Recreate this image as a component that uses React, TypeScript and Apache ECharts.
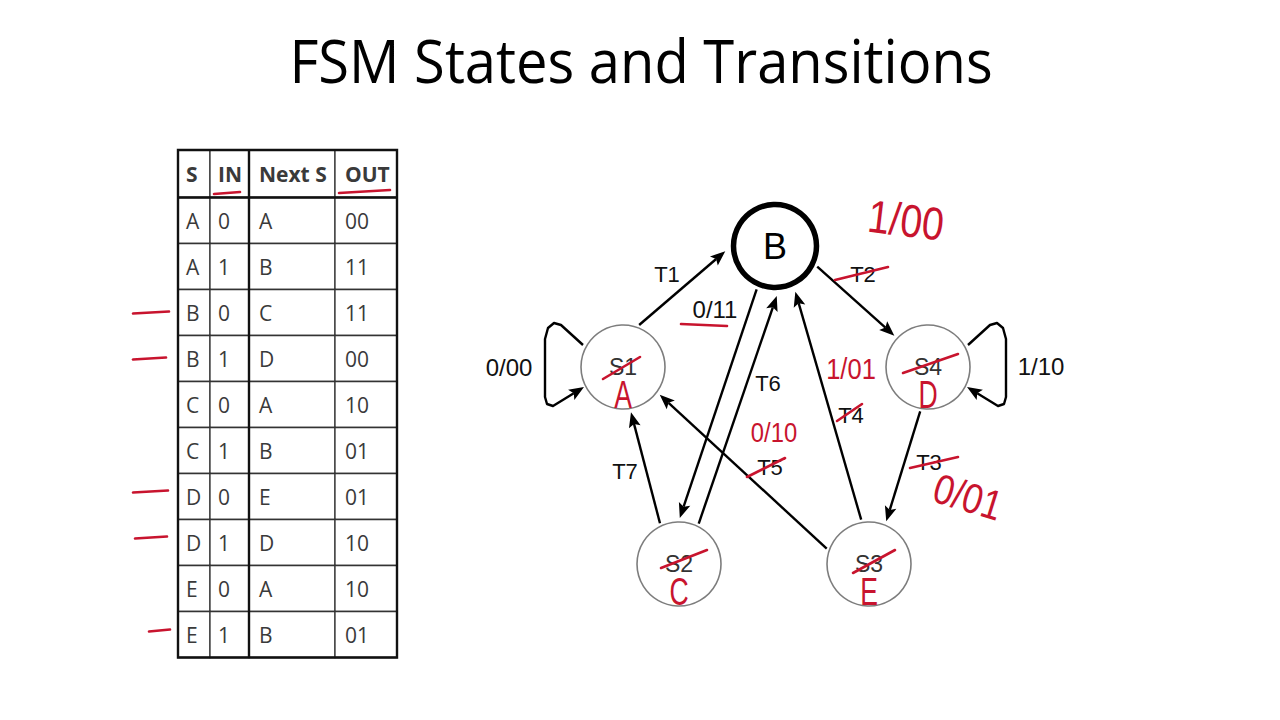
import { useEffect, useRef } from "react"
import * as echarts from "echarts"

const FONT = "'Liberation Sans', Arial, sans-serif"
const TABLE_FONT = "'Open Sans', sans-serif"
const RED = "#c8142e"

// ---- state table ----
const tableHeader = ["S", "IN", "Next S", "OUT"]
const curState = ["A", "A", "B", "B", "C", "C", "D", "D", "E", "E"]
const inputBit = ["0", "1", "0", "1", "0", "1", "0", "1", "0", "1"]
const nextState = ["A", "B", "C", "D", "A", "B", "E", "D", "A", "B"]
const outBits = ["00", "11", "11", "00", "10", "01", "01", "10", "10", "01"]
const markedRows = [2, 3, 6, 7, 9]

// ---- diagram ----
const stateNames = ["A", "B", "C", "D", "E"]
const oldNames: Record<string, string> = { A: "S1", B: "", C: "S2", D: "S4", E: "S3" }
const transFrom = ["A", "B", "D", "E", "E", "C", "B", "C"]
const transTo = ["B", "D", "E", "B", "A", "B", "C", "A"]
const transTag = ["T1", "T2", "T3", "T4", "T5", "T6", "", "T7"]
const tagStruck = [false, true, true, true, true, false, false, false]
const loopState = ["A", "D"]
const loopIO = ["0/00", "1/10"]
const edgeIO = ["0/11"]
const noteText = ["1/00", "1/01", "0/10", "0/01"]

// ---- layout (pixels) ----
const colEdges = [178, 210, 249, 335, 397]
const colPad = [8, 8, 10, 10]
const tableTop = 150
const headerH = 47.5
const rowH = 46
const tickX = [[133, 169], [133, 166], [133, 168], [135, 167], [149, 170]]
const tickDy = [0, 0, -5, -5, -4]

const statePos: Record<string, number[]> = {
  A: [623, 367], B: [775, 246], C: [679, 564], D: [928, 367], E: [869, 564],
}
const edgeAngles = [[-69, 174], [26, 223], [100, -68], [-100, 66], [200, 37], [-64, 88], [113, -89], [-115, 80]]
const tagPos = [[667, 274], [863, 274], [929, 462], [851, 415], [770, 467], [768, 383], [0, 0], [625, 471]]
const tagStrike: Record<number, number[]> = {
  1: [-28, 6, 25, -7], 2: [-19, 6, 29, -5], 3: [-14, 6, 11, -11], 4: [-23, 10, 15, -9],
}
const loopShape = [[40, -22], [62, -42], [69, -44], [75, -39], [78, -28], [78, 30], [76, 37], [70, 39], [39, 20]]
const loopSide = [-1, 1]
const loopLabelPos = [[509, 367], [1041, 366]]
const nameStrike: Record<string, number[]> = {
  A: [-20, 12, 17, -10], D: [-25, 6, 30, -13], C: [-18, 4, 28, -14], E: [-16, 9, 26, -14],
}
const notePos = [[906, 220], [851, 369], [774, 432], [968, 497]]
const noteSize = [46, 30, 28, 42]
const noteRot = [-0.12, 0, 0, -0.3]

function rad(d: number) {
  return (d * Math.PI) / 180
}

function arrowHead(tip: number[], from: number[]) {
  const dx = tip[0] - from[0]
  const dy = tip[1] - from[1]
  const l = Math.hypot(dx, dy)
  const ux = dx / l, uy = dy / l
  const nx = -uy, ny = ux
  const len = 15, hw = 6, notch = 3
  const bx = tip[0] - ux * len, by = tip[1] - uy * len
  return {
    base: [tip[0] - ux * (len - notch), tip[1] - uy * (len - notch)],
    points: [tip, [bx + nx * hw, by + ny * hw], [tip[0] - ux * (len - notch), tip[1] - uy * (len - notch)], [bx - nx * hw, by - ny * hw]],
  }
}

export default function App() {
  const chartRef = useRef<HTMLDivElement>(null)

  useEffect(() => {
    if (!chartRef.current) return
    const chart = echarts.init(chartRef.current, null, { renderer: "svg" })

    // table cells: [col, row] with row -1 = header
    const cells: number[][] = []
    for (let c = 0; c < 4; c++) cells.push([c, -1])
    for (let r = 0; r < curState.length; r++) for (let c = 0; c < 4; c++) cells.push([c, r])
    const columns = [curState, inputBit, nextState, outBits]

    const tableSeries = {
      type: "custom",
      silent: true,
      data: cells,
      renderItem: (_p: any, api: any) => {
        const c = api.value(0)
        const r = api.value(1)
        const y0 = r < 0 ? tableTop : tableTop + headerH + r * rowH
        const y1 = r < 0 ? tableTop + headerH : y0 + rowH
        const p0 = api.coord([colEdges[c], y0])
        const p1 = api.coord([colEdges[c + 1], y1])
        const text = r < 0 ? tableHeader[c] : columns[c][r]
        return {
          type: "group",
          children: [
            {
              type: "rect",
              shape: { x: p0[0], y: p0[1], width: p1[0] - p0[0], height: p1[1] - p0[1] },
              style: { fill: "#fff", stroke: "#333", lineWidth: 1.3 },
            },
            {
              type: "text",
              style: {
                text,
                x: p0[0] + colPad[c],
                y: (p0[1] + p1[1]) / 2,
                fill: "#3a3a3a",
                font: `${r < 0 ? "bold " : ""}21px ${TABLE_FONT}`,
                align: "left",
                verticalAlign: "middle",
              },
            },
          ],
        }
      },
    }

    const edgeSeries = {
      type: "custom",
      silent: true,
      z: 3,
      data: transFrom.map((_, i) => [i, 0]),
      renderItem: (params: any, api: any) => {
        const i = params.dataIndex
        const a = statePos[transFrom[i]]
        const b = statePos[transTo[i]]
        const r0 = transFrom[i] === "B" ? 47 : 45
        const r1 = transTo[i] === "B" ? 50 : 46
        const s = api.coord([a[0] + r0 * Math.cos(rad(edgeAngles[i][0])), a[1] + r0 * Math.sin(rad(edgeAngles[i][0]))])
        const t = api.coord([b[0] + r1 * Math.cos(rad(edgeAngles[i][1])), b[1] + r1 * Math.sin(rad(edgeAngles[i][1]))])
        const head = arrowHead(t, s)
        const children: any[] = [
          { type: "line", shape: { x1: s[0], y1: s[1], x2: head.base[0], y2: head.base[1] }, style: { stroke: "#000", lineWidth: 2.4 } },
          { type: "polygon", shape: { points: head.points }, style: { fill: "#000" } },
        ]
        if (transTag[i]) {
          const lp = api.coord(tagPos[i])
          children.push({
            type: "text",
            style: { text: transTag[i], x: lp[0], y: lp[1], fill: "#111", font: `22px ${FONT}`, align: "center", verticalAlign: "middle" },
          })
        }
        return { type: "group", children }
      },
    }

    const loopSeries = {
      type: "custom",
      silent: true,
      z: 3,
      data: loopState.map((_, i) => [i, 0]),
      renderItem: (params: any, api: any) => {
        const i = params.dataIndex
        const c = statePos[loopState[i]]
        const pts = loopShape.map((o) => api.coord([c[0] + o[0] * loopSide[i], c[1] + o[1]]))
        const tip = pts[pts.length - 1]
        const head = arrowHead(tip, pts[pts.length - 2])
        const lp = api.coord(loopLabelPos[i])
        return {
          type: "group",
          children: [
            {
              type: "polyline",
              shape: { points: [...pts.slice(0, -1), head.base] },
              style: { stroke: "#000", lineWidth: 2.4, fill: "none", lineJoin: "round" },
            },
            { type: "polygon", shape: { points: head.points }, style: { fill: "#000" } },
            {
              type: "text",
              style: { text: loopIO[i], x: lp[0], y: lp[1], fill: "#111", font: `24px ${FONT}`, align: "center", verticalAlign: "middle" },
            },
          ],
        }
      },
    }

    const nodeSeries = {
      type: "scatter",
      silent: true,
      z: 5,
      symbol: "circle",
      label: {
        show: true,
        position: "inside",
        formatter: (p: any) => (p.name === "B" ? "{b|B}" : `{s|${oldNames[p.name]}}`),
        rich: {
          b: { fontFamily: FONT, fontSize: 36, color: "#000", lineHeight: 38 },
          s: { fontFamily: FONT, fontSize: 23, color: "#333", lineHeight: 24 },
        },
      },
      data: stateNames.map((s) => ({
        name: s,
        value: statePos[s],
        symbolSize: s === "B" ? 83 : 84,
        itemStyle: s === "B"
          ? { color: "#fff", borderColor: "#000", borderWidth: 5.5, opacity: 1 }
          : { color: "#fff", borderColor: "#7d7d7d", borderWidth: 1.6, opacity: 1 },
      })),
    }

    const redLine = (x1: number, y1: number, x2: number, y2: number, w = 2.6) => ({
      type: "line",
      z: 100,
      shape: { x1, y1, x2, y2 },
      style: { stroke: RED, lineWidth: w, lineCap: "round" },
    })
    const redText = (text: string, x: number, y: number, size: number, rotation = 0, scaleX = 1) => ({
      type: "text",
      z: 100,
      x,
      y,
      rotation,
      scaleX,
      style: { text, fill: RED, font: `${size}px ${FONT}`, align: "center", verticalAlign: "middle" },
    })

    const graphic: any[] = [
      {
        type: "text",
        z: 100,
        x: 641,
        y: 60,
        scaleX: 0.935,
        style: { text: "FSM States and Transitions", fill: "#000", font: `60px 'Open Sans', sans-serif`, align: "center", verticalAlign: "middle" },
      },
      // thick table rules
      { type: "rect", z: 50, shape: { x: colEdges[0], y: tableTop, width: colEdges[4] - colEdges[0], height: headerH + rowH * curState.length }, style: { fill: "none", stroke: "#111", lineWidth: 2.4 } },
      { type: "line", z: 50, shape: { x1: colEdges[0], y1: tableTop + headerH, x2: colEdges[4], y2: tableTop + headerH }, style: { stroke: "#111", lineWidth: 2.6 } },
      { type: "line", z: 50, shape: { x1: colEdges[2], y1: tableTop, x2: colEdges[2], y2: tableTop + headerH + rowH * curState.length }, style: { stroke: "#111", lineWidth: 2.4 } },
      // red underlines in header
      redLine(214, 194, 240, 192),
      redLine(339, 193, 390, 190),
      // 0/11 label with underline
      {
        type: "text",
        z: 100,
        x: 715,
        y: 309,
        style: { text: edgeIO[0], fill: "#111", font: `24px ${FONT}`, align: "center", verticalAlign: "middle" },
      },
      redLine(681, 324, 727, 326),
    ]

    markedRows.forEach((r, k) => {
      const y = tableTop + headerH + rowH * (r + 0.5) + tickDy[k]
      graphic.push(redLine(tickX[k][0], y + 1, tickX[k][1], y - 1))
    })

    transTag.forEach((_, i) => {
      const st = tagStrike[i]
      if (!tagStruck[i] || !st) return
      const p = tagPos[i]
      graphic.push(redLine(p[0] + st[0], p[1] + st[1], p[0] + st[2], p[1] + st[3]))
    })

    stateNames.forEach((s) => {
      const st = nameStrike[s]
      if (!st) return
      const c = statePos[s]
      graphic.push(redLine(c[0] + st[0], c[1] + st[1], c[0] + st[2], c[1] + st[3]))
      graphic.push(redText(s, c[0], c[1] + 28, 38, 0, 0.7))
    })

    noteText.forEach((t, i) => {
      graphic.push(redText(t, notePos[i][0], notePos[i][1], noteSize[i], noteRot[i], 0.85))
    })

    const option = {
      animation: false,
      backgroundColor: "#fff",
      grid: { left: 0, right: 0, top: 0, bottom: 0 },
      xAxis: { type: "value", min: 0, max: 1280, show: false },
      yAxis: { type: "value", min: 0, max: 720, inverse: true, show: false },
      series: [tableSeries, edgeSeries, loopSeries, nodeSeries],
      graphic,
    }

    chart.setOption(option as any)

    return () => {
      chart.dispose()
    }
  }, [])

  return (
    <div
      ref={chartRef}
      style={{ position: "absolute", left: 0, top: 0, width: 1280, height: 720, background: "#fff" }}
    />
  )
}
